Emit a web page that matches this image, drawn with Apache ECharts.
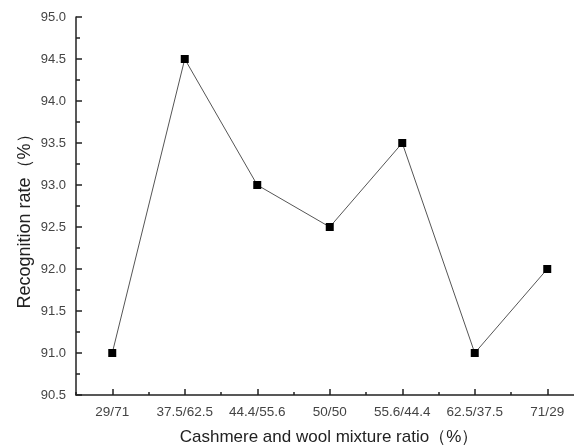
<!DOCTYPE html>
<html><head><meta charset="utf-8">
<script src="https://cdn.jsdelivr.net/npm/echarts@6/dist/echarts.min.js"></script>
<style>html,body{margin:0;padding:0;background:#fff}#c{width:574px;height:448px}</style>
</head><body><div id="c"></div>
<script>
var categories = ['29/71','37.5/62.5','44.4/55.6','50/50','55.6/44.4','62.5/37.5','71/29'];
var recognitionRate = [91.0, 94.5, 93.0, 92.5, 93.5, 91.0, 92.0];
var yTitle = 'Recognition rate（%）';
var xTitle = 'Cashmere and wool mixture ratio（%）';

var chart = echarts.init(document.getElementById('c'));
var font = 'Liberation Sans, Arial, sans-serif';
chart.setOption({
  animation: false,
  grid: {left: 76, width: 507.5, top: 17, height: 378, containLabel: false, outerBoundsMode: 'none'},
  xAxis: [{
    type: 'category', data: categories, boundaryGap: true,
    axisLine: {lineStyle: {color: '#222', width: 1.5}},
    axisTick: {show: true, inside: true, length: 3, lineStyle: {color: '#222', width: 1.5}},
    axisLabel: {color: '#444', fontSize: 13.5, fontFamily: font, margin: 10, interval: 0},
    splitLine: {show: false}
  }, {
    type: 'category', data: categories, boundaryGap: true, position: 'bottom',
    axisLine: {show: false},
    axisTick: {show: true, inside: true, alignWithLabel: true, length: 6, interval: 0, lineStyle: {color: '#222', width: 1.5}},
    axisLabel: {show: false}, splitLine: {show: false}
  }],
  yAxis: {
    type: 'value', min: 90.5, max: 95.0, interval: 0.5,
    axisLine: {show: true, lineStyle: {color: '#222', width: 1.5}},
    axisTick: {show: true, inside: true, length: 6, lineStyle: {color: '#222', width: 1.5}},
    minorTick: {show: true, splitNumber: 2, length: 4, lineStyle: {color: '#222', width: 1.5}},
    axisLabel: {color: '#444', fontSize: 13, fontFamily: font, margin: 10, formatter: function(v){return v.toFixed(1);}},
    splitLine: {show: false}
  },
  graphic: [
    {type: 'text', x: 329, y: 437, style: {text: xTitle, fill: '#222', font: '17px ' + font, align: 'center', verticalAlign: 'middle'}},
    {type: 'text', x: 25, y: 217, rotation: Math.PI/2, style: {text: yTitle, fill: '#222', font: '18px ' + font, align: 'center', verticalAlign: 'middle'}}
  ],
  series: [{
    type: 'line', data: recognitionRate, xAxisIndex: 0,
    symbol: 'rect', symbolSize: 8,
    itemStyle: {color: '#000'},
    lineStyle: {color: '#555', width: 1}
  }]
});
</script></body></html>
